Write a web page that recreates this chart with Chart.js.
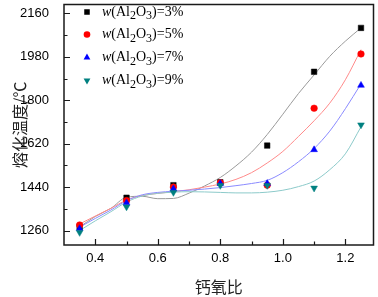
<!DOCTYPE html>
<html>
<head>
<meta charset="utf-8">
<script src="https://cdn.jsdelivr.net/npm/chart.js@4/dist/chart.umd.min.js"></script>
<style>
  html, body { margin: 0; padding: 0; background: #fff; }
  #wrap { width: 378px; height: 297px; position: relative; }
</style>
</head>
<body>
<div id="wrap"><canvas id="melt-chart"></canvas></div>
<script>
// measured points: calcium/oxygen ratio vs melting temperature
const ratio = [0.35, 0.5, 0.65, 0.8, 0.95, 1.1, 1.25];
const al3 = [1275, 1396, 1448, 1460, 1612, 1918, 2100];
const al5 = [1283, 1384, 1440, 1458, 1448, 1767, 1992];
const al7 = [1268, 1375, 1433, 1455, 1455, 1595, 1862];
const al9 = [1252, 1358, 1418, 1447, 1447, 1436, 1698];

// fitted curves
const fitX = [0.35, 0.40, 0.45, 0.50, 0.55, 0.60, 0.65, 0.70, 0.75, 0.80, 0.85, 0.90, 0.95, 1.00, 1.05, 1.10, 1.15, 1.20, 1.25];
const fit3 = [1275, 1318, 1352, 1398, 1402, 1392, 1393, 1415, 1445, 1480, 1528, 1585, 1658, 1742, 1828, 1905, 1982, 2045, 2100];
const fit5 = [1287, 1320, 1352, 1386, 1405, 1414, 1421, 1429, 1440, 1453, 1472, 1500, 1540, 1588, 1650, 1715, 1788, 1885, 2010];
const fit7 = [1274, 1310, 1345, 1384, 1408, 1418, 1423, 1427, 1432, 1438, 1446, 1455, 1468, 1500, 1545, 1600, 1672, 1765, 1868];
const fit9 = [1260, 1300, 1338, 1378, 1403, 1414, 1419, 1421, 1420, 1418, 1416, 1416, 1419, 1427, 1442, 1465, 1512, 1578, 1690];

const legendPct = ['3%', '5%', '7%', '9%'];
const yMajor = [1260, 1440, 1620, 1800, 1980, 2160];
const yMinor = [1350, 1530, 1710, 1890, 2070];
const xMajor = [0.4, 0.6, 0.8, 1.0, 1.2];
const xMinor = [0.5, 0.7, 0.9, 1.1];

const pts = (xs, ys) => xs.map((x, i) => ({ x, y: ys[i] }));

const markers = [
    { pointStyle: 'rect', radius: 3.9, rotation: 0, color: '#000000' },
    { pointStyle: 'circle', radius: 3.3, rotation: 0, color: '#ff0000' },
    { pointStyle: 'triangle', radius: 3.9, rotation: 0, color: '#0000ff' },
    { pointStyle: 'triangle', radius: 3.9, rotation: 180, color: '#008080' }
];
const lineColors = ['#9a9a9a', '#ff8a8a', '#8a8aff', '#8ccaca'];

function scatterSet(data, m) {
    return {
        data,
        showLine: false,
        pointStyle: m.pointStyle,
        pointRadius: m.radius,
        pointRotation: m.rotation,
        pointBackgroundColor: m.color,
        pointBorderColor: m.color,
        pointBorderWidth: 0.5
    };
}

function fitSet(data, color) {
    return {
        data,
        showLine: true,
        borderColor: color,
        borderWidth: 1,
        pointRadius: 0,
        cubicInterpolationMode: 'monotone'
    };
}

// inward ticks + closed frame
const frame = {
    id: 'frame',
    afterDatasetsDraw(chart) {
        const { ctx, chartArea: a, scales: { x, y } } = chart;
        ctx.save();
        ctx.strokeStyle = '#1a1a1a';
        ctx.lineWidth = 1.2;
        ctx.beginPath();
        yMajor.forEach(v => { const p = Math.round(y.getPixelForValue(v)) + 0.5; ctx.moveTo(a.left, p); ctx.lineTo(a.left + 6, p); });
        yMinor.forEach(v => { const p = Math.round(y.getPixelForValue(v)) + 0.5; ctx.moveTo(a.left, p); ctx.lineTo(a.left + 3.5, p); });
        xMajor.forEach(v => { const p = Math.round(x.getPixelForValue(v)) + 0.5; ctx.moveTo(p, a.bottom); ctx.lineTo(p, a.bottom - 6); });
        xMinor.forEach(v => { const p = Math.round(x.getPixelForValue(v)) + 0.5; ctx.moveTo(p, a.bottom); ctx.lineTo(p, a.bottom - 3.5); });
        ctx.stroke();
        ctx.lineWidth = 1.5;
        ctx.strokeRect(a.left, a.top, a.right - a.left, a.bottom - a.top);
        ctx.restore();
    }
};

// legend with italic w and subscripts
const formulaLegend = {
    id: 'formulaLegend',
    afterDraw(chart) {
        const ctx = chart.ctx;
        const rowY = [12, 34.5, 57.5, 80.5];
        ctx.save();
        ctx.textBaseline = 'middle';
        legendPct.forEach((pct, i) => {
            const m = markers[i];
            ctx.fillStyle = m.color;
            ctx.strokeStyle = m.color;
            ctx.lineWidth = 0.5;
            Chart.helpers.drawPoint(ctx, { pointStyle: m.pointStyle, radius: m.radius, rotation: m.rotation }, 87, rowY[i]);
            ctx.fillStyle = '#000';
            const parts = [
                { t: 'w', f: 'italic 14px "Liberation Serif"', dy: 0 },
                { t: '(Al', f: '14px "Liberation Serif"', dy: 0 },
                { t: '2', f: '12px "Liberation Serif"', dy: 4 },
                { t: 'O', f: '14px "Liberation Serif"', dy: 0 },
                { t: '3', f: '12px "Liberation Serif"', dy: 4 },
                { t: ')=' + pct, f: '14px "Liberation Serif"', dy: 0 }
            ];
            let cx = 102;
            parts.forEach(p => {
                ctx.font = p.f;
                ctx.fillText(p.t, cx, rowY[i] + p.dy);
                cx += ctx.measureText(p.t).width;
            });
        });
        ctx.restore();
    }
};

new Chart(document.getElementById('melt-chart'), {
    type: 'scatter',
    data: {
        datasets: [
            scatterSet(pts(ratio, al9), markers[3]),
            scatterSet(pts(ratio, al7), markers[2]),
            scatterSet(pts(ratio, al5), markers[1]),
            scatterSet(pts(ratio, al3), markers[0]),
            fitSet(pts(fitX, fit9), lineColors[3]),
            fitSet(pts(fitX, fit7), lineColors[2]),
            fitSet(pts(fitX, fit5), lineColors[1]),
            fitSet(pts(fitX, fit3), lineColors[0])
        ]
    },
    options: {
        responsive: true,
        maintainAspectRatio: false,
        animation: false,
        layout: { padding: { left: 0, right: 3, top: 1, bottom: 0 } },
        plugins: {
            legend: { display: false },
            tooltip: { enabled: false }
        },
        scales: {
            x: {
                type: 'linear',
                min: 0.3,
                max: 1.29,
                afterFit: s => { s.height = 52; s.paddingLeft = 0; s.paddingRight = 0; },
                afterBuildTicks: s => { s.ticks = xMajor.map(v => ({ value: v })); },
                grid: { display: false, drawTicks: true, tickLength: 6 },
                border: { display: false },
                ticks: {
                    padding: 0,
                    color: '#000',
                    font: { family: '"Liberation Sans", Arial', size: 13 },
                    callback: v => v.toFixed(1)
                },
                title: {
                    display: true,
                    text: '钙氧比',
                    color: '#222',
                    padding: { top: 0, bottom: 0 },
                    font: { family: '"Noto Sans CJK SC"', size: 16 }
                }
            },
            y: {
                min: 1200,
                max: 2197,
                afterFit: s => { s.width = 64; s.paddingTop = 0; s.paddingBottom = 0; },
                afterBuildTicks: s => { s.ticks = yMajor.map(v => ({ value: v })); },
                grid: { display: false, drawTicks: true, tickLength: 15 },
                border: { display: false },
                ticks: {
                    padding: 0,
                    color: '#000',
                    font: { family: '"Liberation Sans", Arial', size: 13 },
                    callback: v => String(v)
                },
                title: {
                    display: true,
                    text: '熔化温度/℃',
                    color: '#222',
                    padding: { top: 10, bottom: 0 },
                    font: { family: '"Noto Sans CJK SC"', size: 16 }
                }
            }
        }
    },
    plugins: [frame, formulaLegend]
});
</script>
</body>
</html>
